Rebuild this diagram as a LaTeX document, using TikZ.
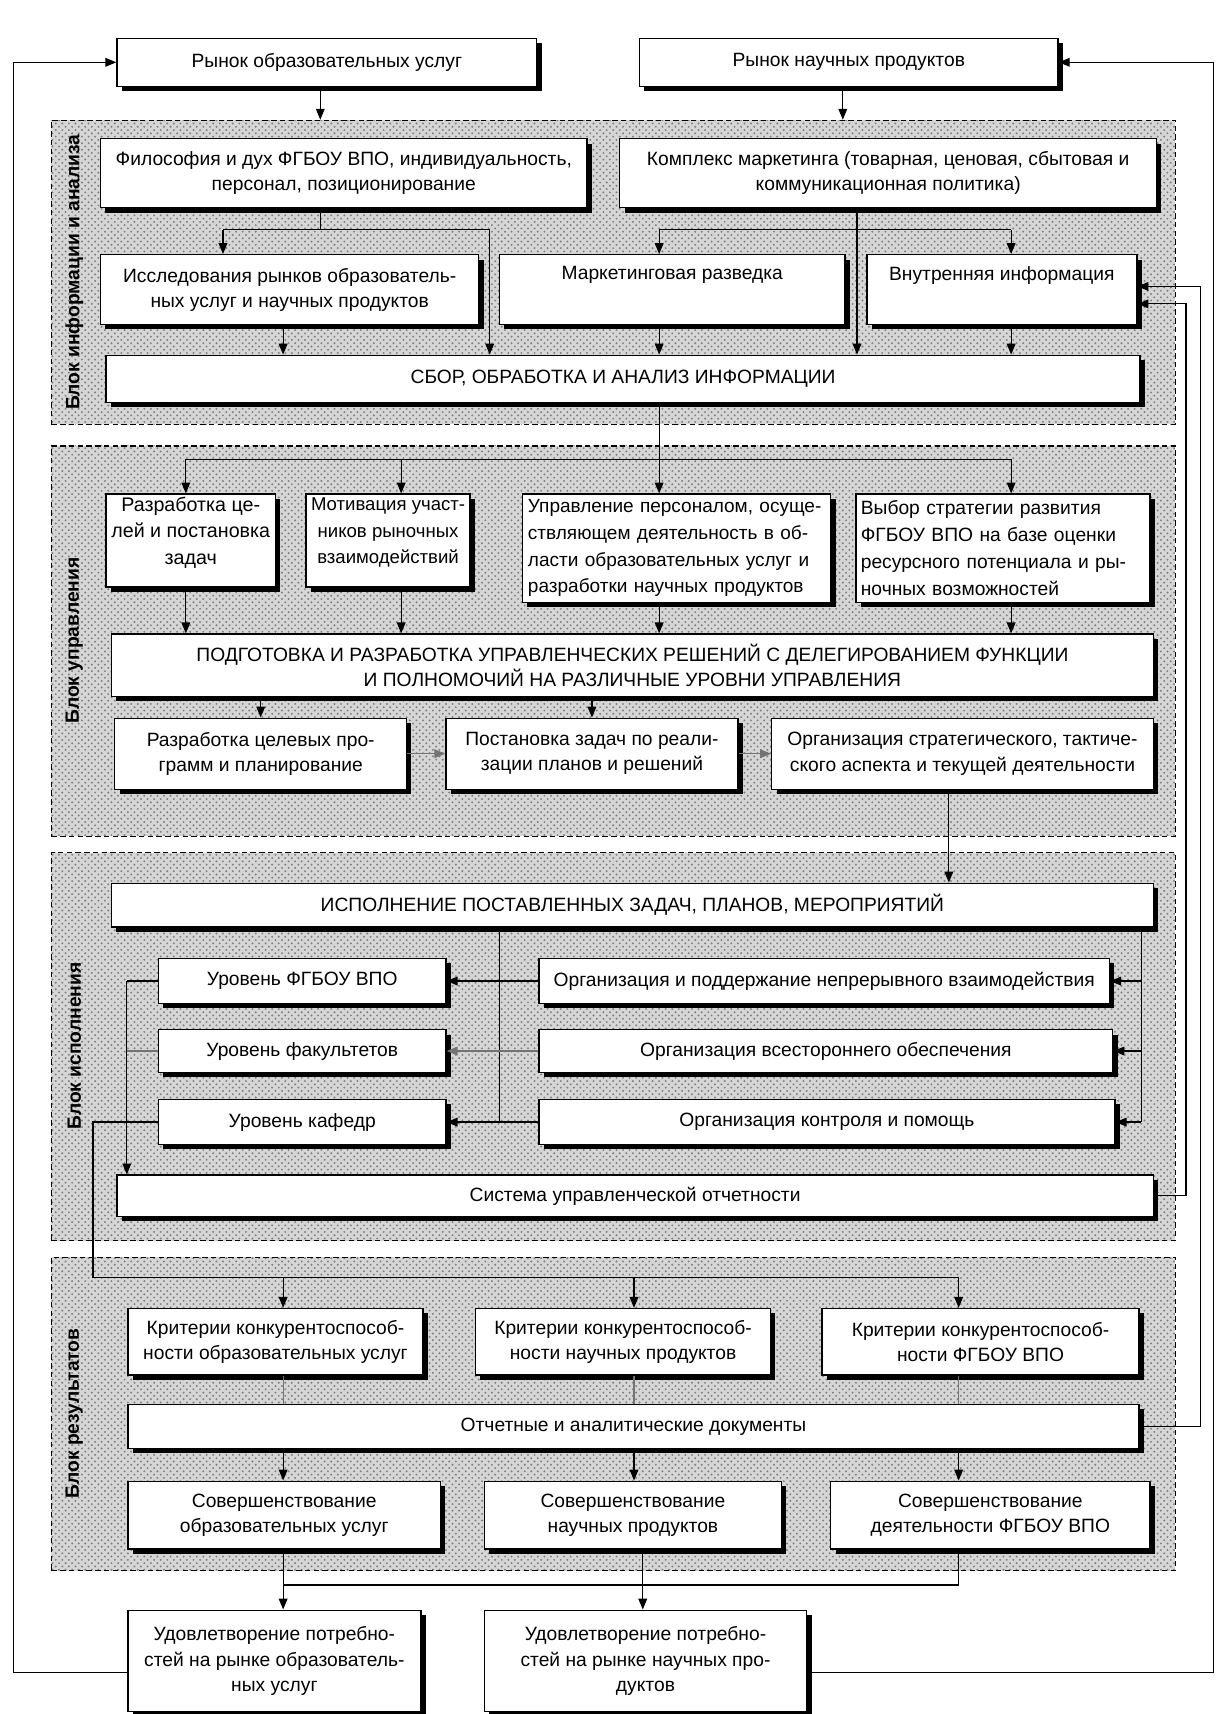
\documentclass[tikz,border=0pt]{standalone}
\usepackage{fontspec}
\setmainfont{Liberation Sans}
\usetikzlibrary{arrows.meta,shadows,fit,calc,patterns}
% box from its corners: name, x1, y1, x2, y2, options, text
\newcommand\bx[7]{\node[box, minimum width={(#4-#2)*0.5pt}, minimum height={(#5-#3)*0.5pt}, #6] (#1) at ({(#2+#4)/2},{(#3+#5)/2}) {#7};}
\begin{document}
\begin{tikzpicture}[x=0.5pt,y=-0.5pt,
  font=\fontsize{8.8}{11.5}\selectfont,
  box/.style={draw=black, line width=0.6pt, fill=white, inner sep=0pt, align=center,
    drop shadow={shadow xshift=2.2pt, shadow yshift=-2.2pt, fill=black, opacity=1}},
  blockframe/.style={draw=black, line width=0.5pt, dash pattern=on 2.5pt off 1.5pt,
    preaction={fill=gray!32}, pattern=crosshatch dots, pattern color=black!50, inner sep=0pt},
  blocklabel/.style={rotate=90, font=\fontsize{8.8}{10}\selectfont\bfseries},
  arr/.style={-{Triangle[length=5pt,width=4pt]}, line width=0.55pt},
  ln/.style={line width=0.55pt},
  faint/.style={draw=black!55}
]
\useasboundingbox (0,0) rectangle (1118,1568);

% ---------- block frames ----------
\node[blockframe, fit={(47,110) (1075,388)}] (blk1) {};
\node[blockframe, fit={(47,408) (1075,765)}] (blk2) {};
\node[blockframe, fit={(47,780) (1075,1135)}] (blk3) {};
\node[blockframe, fit={(47,1150) (1075,1437)}] (blk4) {};
\node[blocklabel] (lab1) at (68,249) {Блок информации и анализа};
\node[blocklabel] (lab2) at (68,586) {Блок управления};
\node[blocklabel] (lab3) at (68,957) {Блок исполнения};
\node[blocklabel] (lab4) at (68,1293) {Блок результатов};

% ---------- markets ----------
\bx{a1}{107}{35}{491}{79}{}{Рынок образовательных услуг}
\bx{a2}{585}{35}{968}{79}{}{Рынок научных продуктов}

% ---------- information and analysis ----------
\bx{b1}{92}{127}{537}{190}{}{Философия и дух ФГБОУ ВПО, индивидуальность,\\персонал, позиционирование}
\bx{b2}{567}{127}{1058}{190}{}{Комплекс маркетинга (товарная, ценовая, сбытовая и\\коммуникационная политика)}
\bx{c1}{92}{233}{438}{297}{}{Исследования рынков образователь-\\ных услуг и научных продуктов}
\bx{c2}{457}{233}{773}{297}{}{Маркетинговая разведка\\\strut}
\bx{c3}{793}{233}{1040}{297}{}{Внутренняя информация\\\strut}
\bx{d}{97}{325}{1043}{368}{}{СБОР, ОБРАБОТКА И АНАЛИЗ ИНФОРМАЦИИ}

% ---------- management ----------
\bx{e1}{97}{452}{252}{537}{font=\fontsize{9}{12}\selectfont}{Разработка це-\\лей и постановка\\задач\\[-3pt]}
\bx{e2}{280}{452}{430}{537}{font=\fontsize{8.5}{12}\selectfont}{Мотивация участ-\\ников рыночных\\взаимодействий\\[-3pt]}
\bx{e3}{478}{452}{760}{551}{align=left, text width=136pt, font=\fontsize{8.7}{12.2}\selectfont}{Управление персоналом, осуще-\\ствляющем деятельность в об-\\ласти образовательных услуг и\\разработки научных продуктов}
\bx{e4}{783}{452}{1052}{551}{align=left, text width=130pt, font=\fontsize{8.8}{12.3}\selectfont}{Выбор стратегии развития\\ФГБОУ ВПО на базе оценки\\ресурсного потенциала и ры-\\ночных возможностей}
\bx{f}{102}{580}{1055}{637}{}{ПОДГОТОВКА И РАЗРАБОТКА УПРАВЛЕНЧЕСКИХ РЕШЕНИЙ С ДЕЛЕГИРОВАНИЕМ ФУНКЦИИ\\И ПОЛНОМОЧИЙ НА РАЗЛИЧНЫЕ УРОВНИ УПРАВЛЕНИЯ}
\bx{g1}{105}{657}{372}{722}{}{Разработка целевых про-\\грамм и планирование}
\bx{g2}{408}{657}{675}{722}{}{Постановка задач по реали-\\зации планов и решений}
\bx{g3}{706}{657}{1055}{722}{}{Организация стратегического, тактиче-\\ского аспекта и текущей деятельности}

% ---------- execution ----------
\bx{h}{102}{808}{1055}{848}{}{ИСПОЛНЕНИЕ ПОСТАВЛЕННЫХ ЗАДАЧ, ПЛАНОВ, МЕРОПРИЯТИЙ}
\bx{l1}{145}{877}{408}{918}{}{Уровень ФГБОУ ВПО}
\bx{l2}{145}{942}{408}{981}{}{Уровень факультетов}
\bx{l3}{145}{1006}{408}{1047}{}{Уровень кафедр}
\bx{r1}{493}{877}{1015}{918}{}{Организация и поддержание непрерывного взаимодействия}
\bx{r2}{493}{942}{1018}{981}{}{Организация всестороннего обеспечения}
\bx{r3}{493}{1006}{1020}{1047}{}{Организация контроля и помощь}
\bx{s}{107}{1075}{1055}{1113}{}{Система управленческой отчетности}

% ---------- results ----------
\bx{k1}{117}{1197}{387}{1258}{}{Критерии конкурентоспособ-\\ности образовательных услуг}
\bx{k2}{435}{1197}{705}{1258}{}{Критерии конкурентоспособ-\\ности научных продуктов}
\bx{k3}{752}{1197}{1042}{1258}{}{Критерии конкурентоспособ-\\ности ФГБОУ ВПО}
\bx{p}{117}{1285}{1042}{1325}{}{Отчетные и аналитические документы}
\bx{m1}{117}{1355}{403}{1417}{}{Совершенствование\\образовательных услуг}
\bx{m2}{443}{1355}{715}{1417}{}{Совершенствование\\научных продуктов}
\bx{m3}{760}{1355}{1052}{1417}{}{Совершенствование\\деятельности ФГБОУ ВПО}

% ---------- satisfaction of needs ----------
\bx{y1}{117}{1473}{385}{1566}{}{Удовлетворение потребно-\\стей на рынке образователь-\\ных услуг}
\bx{y2}{443}{1473}{738}{1566}{}{Удовлетворение потребно-\\стей на рынке научных про-\\дуктов}

% ---------- junction points ----------
\coordinate (j1) at (293,210);
\coordinate (j1a) at (204,210);
\coordinate (j1b) at (448,210);
\coordinate (j2) at (784,210);
\coordinate (j2a) at (603,210);
\coordinate (j2b) at (925,210);
\coordinate (ja2) at (771,100);
\coordinate (j3) at (603,420);
\coordinate (j3a) at (170,420);
\coordinate (j3b) at (367,420);
\coordinate (j3d) at (925,420);
\coordinate (j4) at (868,765);
\coordinate (t1) at (457,1026.5);
\coordinate (t2) at (1044,1026.5);
\coordinate (t3) at (116,897.5);
\coordinate (j5) at (85,1169);
\coordinate (j5a) at (259,1169);
\coordinate (j5b) at (580,1169);
\coordinate (j5c) at (877,1169);
\coordinate (j6) at (877,1450);
\coordinate (j6a) at (259,1450);
\coordinate (j6b) at (588,1450);
\coordinate (fb1) at (1085,278);
\coordinate (fb2) at (1098,262);
\coordinate (fbL) at (12,57);
\coordinate (fbLb) at (12,1530);
\coordinate (fbR) at (1110,57);
\coordinate (fbRb) at (1110,1530);

% ---------- connectors: markets to information ----------
\draw[arr] (a1.south -| j1) -- (blk1.north -| j1);
\draw[arr] (a2.south -| ja2) -- (blk1.north -| ja2);

% ---------- connectors inside information block ----------
\draw[ln] (b1.south -| j1) -- (j1);
\draw[ln] (j1a) -- (j1b);
\draw[arr] (j1a) -- (j1a |- c1.north);
\draw[arr] (j1b) -- (j1b |- d.north);
\draw[ln] (b2.south -| j2) -- (j2);
\draw[arr] (j2) -- (j2 |- d.north);
\draw[ln] (j2a) -- (j2b);
\draw[arr] (j2a) -- (j2a |- c2.north);
\draw[arr] (j2b) -- (j2b |- c3.north);
\draw[arr] (c1.south -| j5a) -- (d.north -| j5a);
\draw[arr] (c2.south -| j2a) -- (d.north -| j2a);
\draw[arr] (c3.south -| j2b) -- (d.north -| j2b);

% ---------- connectors inside management block ----------
\draw[ln] (d.south -| j3) -- (j3);
\draw[ln] (j3a) -- (j3d);
\draw[arr] (j3a) -- (j3a |- e1.north);
\draw[arr] (j3b) -- (j3b |- e2.north);
\draw[arr] (j3) -- (j3 |- e3.north);
\draw[arr] (j3d) -- (j3d |- e4.north);
\draw[arr] (e1.south -| j3a) -- (f.north -| j3a);
\draw[arr] (e2.south -| j3b) -- (f.north -| j3b);
\draw[arr] (e3.south -| j3) -- (f.north -| j3);
\draw[arr] (e4.south -| j3d) -- (f.north -| j3d);
\draw[arr] (f.south -| g1.north) -- (g1.north);
\draw[arr] (f.south -| g2.north) -- (g2.north);
\draw[arr, faint] (g1.east) -- (g2.west);
\draw[arr, faint] (g2.east) -- (g3.west);
\draw[arr] (g3.south -| j4) -- (h.north -| j4);

% ---------- connectors inside execution block ----------
\draw[ln] (h.south -| t1) -- (t1);
\draw[arr] (r1.west) -- (r1.west -| l1.east);
\draw[arr, faint] (r2.west) -- (r2.west -| l2.east);
\draw[arr] (r3.west) -- (r3.west -| l3.east);
\draw[ln] (h.south -| t2) -- (t2);
\draw[arr] (t2 |- r1.east) -- (r1.east);
\draw[arr] (t2 |- r2.east) -- (r2.east);
\draw[arr] (t2) -- (r3.east);
\draw[ln] (l1.west) -- (t3);
\draw[arr] (t3) -- (t3 |- s.north);
\draw[ln, faint] (l2.west) -- (l2.west -| t3);
\draw[ln] (l3.west) -- (l3.west -| j5) -- (j5) -- (j5c);

% ---------- connectors inside results block ----------
\draw[arr] (j5a) -- (j5a |- k1.north);
\draw[arr] (j5b) -- (j5b |- k2.north);
\draw[arr] (j5c) -- (j5c |- k3.north);
\draw[ln, faint] (k1.south -| j5a) -- (p.north -| j5a);
\draw[ln, faint] (k2.south -| j5b) -- (p.north -| j5b);
\draw[ln, faint] (k3.south -| j5c) -- (p.north -| j5c);
\draw[arr] (p.south -| j5a) -- (m1.north -| j5a);
\draw[arr] (p.south -| j5b) -- (m2.north -| j5b);
\draw[arr] (p.south -| j5c) -- (m3.north -| j5c);
\draw[arr] (m1.south -| j6a) -- (y1.north -| j6a);
\draw[arr] (m2.south -| j6b) -- (y2.north -| j6b);
\draw[ln] (m3.south -| j6) -- (j6) -- (j6a);

% ---------- feedback loops ----------
\draw[arr] (s.east) -- (s.east -| fb1) -- (fb1) -- (fb1 -| c3.east);
\draw[arr] (p.east) -- (p.east -| fb2) -- (fb2) -- (fb2 -| c3.east);
\draw[arr] (fbLb -| y1.west) -- (fbLb) -- (fbL) -- (a1.west);
\draw[arr] (fbRb -| y2.east) -- (fbRb) -- (fbR) -- (a2.east);
\end{tikzpicture}
\end{document}
